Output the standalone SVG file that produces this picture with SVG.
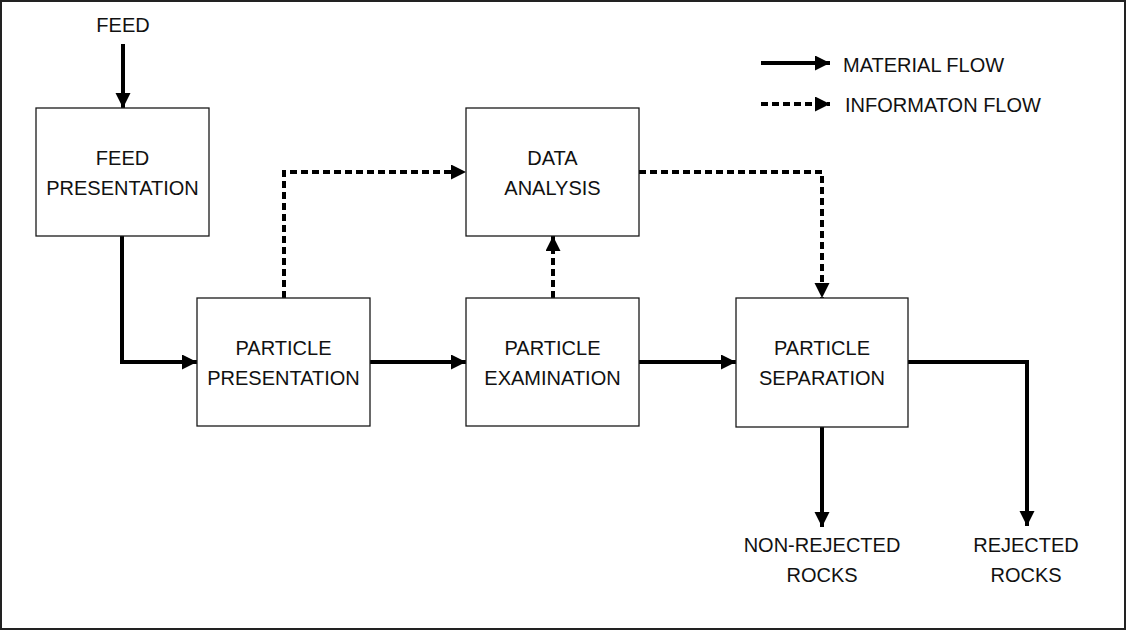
<svg xmlns="http://www.w3.org/2000/svg" width="1127" height="631" viewBox="0 0 1127 631">
<style>
.box{fill:#fff;stroke:#1a1a1a;stroke-width:1.3}
.t{font-family:"Liberation Sans",Arial,sans-serif;font-size:20px;fill:#111;text-anchor:middle}
.tl{font-family:"Liberation Sans",Arial,sans-serif;font-size:20px;fill:#111}
.mat{fill:none;stroke:#000;stroke-width:4}
.inf{fill:none;stroke:#000;stroke-width:4;stroke-dasharray:7 4}
</style>
<defs>
<marker id="ah" markerUnits="userSpaceOnUse" markerWidth="16" markerHeight="16" refX="15" refY="7.5" orient="auto">
<path d="M0,0 L15,7.5 L0,15 Z" fill="#000"/>
</marker>
</defs>
<rect x="1" y="1" width="1124" height="628" fill="#fff" stroke="#222" stroke-width="2"/>
<g id="connectors">
<path class="mat" d="M123,44 V108" marker-end="url(#ah)"/>
<path class="mat" d="M122,236 V362 H197" marker-end="url(#ah)"/>
<path class="mat" d="M370,362 H466" marker-end="url(#ah)"/>
<path class="mat" d="M639,362 H736" marker-end="url(#ah)"/>
<path class="mat" d="M822,427 V527" marker-end="url(#ah)"/>
<path class="mat" d="M908,362 H1027 V526" marker-end="url(#ah)"/>
<path class="inf" d="M284,298 V172 H466" marker-end="url(#ah)"/>
<path class="inf" d="M553,298 V236" marker-end="url(#ah)"/>
<path class="inf" d="M639,172 H822 V298" marker-end="url(#ah)"/>
</g>
<g id="legend">
<path class="mat" d="M761,63 H830" marker-end="url(#ah)"/>
<text class="tl" x="843" y="72">MATERIAL FLOW</text>
<path class="inf" d="M761,104 H830" marker-end="url(#ah)"/>
<text class="tl" x="845" y="112">INFORMATON FLOW</text>
</g>
<g id="feed"><text class="t" x="123" y="32">FEED</text></g>
<g id="feed-presentation">
<rect class="box" x="36" y="108" width="173" height="128"/>
<text class="t" x="122.5" y="165">FEED</text>
<text class="t" x="122.5" y="195">PRESENTATION</text>
</g>
<g id="data-analysis">
<rect class="box" x="466" y="108" width="173" height="128"/>
<text class="t" x="552.5" y="165">DATA</text>
<text class="t" x="552.5" y="195">ANALYSIS</text>
</g>
<g id="particle-presentation">
<rect class="box" x="197" y="298" width="173" height="128"/>
<text class="t" x="283.5" y="355">PARTICLE</text>
<text class="t" x="283.5" y="385">PRESENTATION</text>
</g>
<g id="particle-examination">
<rect class="box" x="466" y="298" width="173" height="128"/>
<text class="t" x="552.5" y="355">PARTICLE</text>
<text class="t" x="552.5" y="385">EXAMINATION</text>
</g>
<g id="particle-separation">
<rect class="box" x="736" y="298" width="172" height="129"/>
<text class="t" x="822" y="355">PARTICLE</text>
<text class="t" x="822" y="385">SEPARATION</text>
</g>
<g id="non-rejected">
<text class="t" x="822" y="552">NON-REJECTED</text>
<text class="t" x="822" y="582">ROCKS</text>
</g>
<g id="rejected">
<text class="t" x="1026" y="552">REJECTED</text>
<text class="t" x="1026" y="582">ROCKS</text>
</g>
</svg>
